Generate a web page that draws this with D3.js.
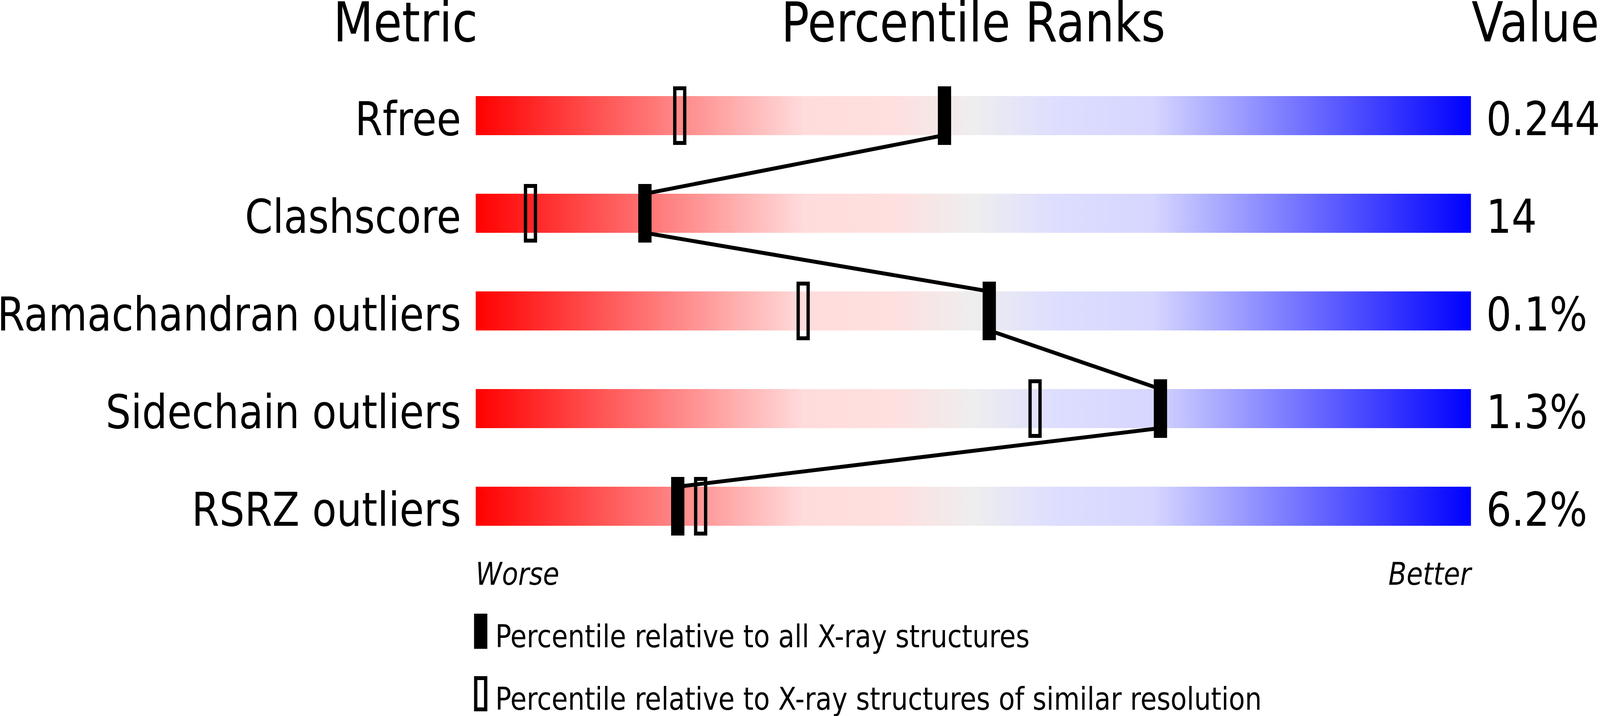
<!DOCTYPE html>
<html lang="en">
	<head>
		<meta charset="utf-8">
		<title>Percentile ranks slider</title>
		<script type="text/javascript" src="https://cdn.jsdelivr.net/npm/d3@7"></script>
		<style type="text/css">
			html, body {
				margin: 0;
				padding: 0;
				overflow: hidden;
				background: #fff;
			}
			#chart svg {
				display: block;
				width: 100vw;
				height: 100vh;
			}
			svg text {
				font-family: "DejaVu Sans", sans-serif;
				fill: #000;
			}
		</style>
	</head>
	<body>
		<div id="chart"></div>
		<script type="text/javascript">

			// rows of the slider
			var metrics = ["Rfree", "Clashscore", "Ramachandran outliers", "Sidechain outliers", "RSRZ outliers"];
			var values = ["0.244", "14", "0.1%", "1.3%", "6.2%"];
			// percentile vs all X-ray structures (filled marker)
			var pctAll = [47.1, 17.0, 51.6, 68.8, 20.3];
			// percentile vs structures of similar resolution (open marker)
			var pctRes = [20.5, 5.5, 32.9, 56.2, 22.6];

			var legendLabels = ["Percentile relative to all X-ray structures",
				"Percentile relative to X-ray structures of similar resolution"];

			var w = 4823;
			var h = 1833;
			var barH = 100;

			// red -> pink -> grey -> lavender -> blue
			var gradStops = [
				[0, "#ff0000"], [0.33, "#ffdcdc"], [0.42, "#ffdfdf"], [0.5, "#eeeeee"],
				[0.58, "#dedeff"], [0.68, "#d6d6ff"], [1, "#0000ff"]
			];

			var xScale = d3.scaleLinear()
				.domain([0, 100])
				.range([1434, 4434]);

			var yScale = d3.scaleBand()
				.domain(metrics)
				.range([171, 1421]);

			var rowMid = function(m) { return yScale(m) + yScale.bandwidth() / 2; };

			// drawn in a fixed 4823x1833 space and stretched over the whole window
			// (the window can come out narrower than asked)
			var svg = d3.select("#chart")
				.append("svg")
				.attr("viewBox", "0 0 " + w + " " + h)
				.attr("preserveAspectRatio", "none");

			var grad = svg.append("defs")
				.append("linearGradient")
				.attr("id", "slider")
				.attr("x1", "0%").attr("x2", "100%")
				.attr("y1", "0%").attr("y2", "0%");
			grad.selectAll("stop")
				.data(gradStops)
				.enter()
				.append("stop")
				.attr("offset", function(d) { return d[0]; })
				.attr("stop-color", function(d) { return d[1]; });

			//// headers
			svg.append("text").text("Metric")
				.attr("x", xScale(0) + 6).attr("y", 106)
				.attr("text-anchor", "end")
				.style("font-size", "140px");
			svg.append("text").text("Percentile Ranks")
				.attr("x", xScale(50)).attr("y", 106)
				.attr("text-anchor", "middle")
				.style("font-size", "140px");
			svg.append("text").text("Value")
				.attr("x", xScale(100) + 2).attr("y", 106)
				.style("font-size", "140px");

			//// bars
			svg.selectAll(".bar")
				.data(metrics)
				.enter()
				.append("rect")
				.attr("class", "bar")
				.attr("x", xScale(0))
				.attr("y", function(d) { return rowMid(d) - barH / 2; })
				.attr("width", xScale(100) - xScale(0))
				.attr("height", barH)
				.attr("fill", "url(#slider)");

			svg.selectAll(".metric")
				.data(metrics)
				.enter()
				.append("text")
				.attr("class", "metric")
				.text(function(d) { return d; })
				.attr("x", xScale(0) - 44)
				.attr("y", function(d) { return rowMid(d) + barH / 2; })
				.attr("text-anchor", "end")
				.style("font-size", "120px");

			svg.selectAll(".value")
				.data(metrics)
				.enter()
				.append("text")
				.attr("class", "value")
				.text(function(d, i) { return values[i]; })
				.attr("x", xScale(100) + 46)
				.attr("y", function(d) { return rowMid(d) + barH / 2; })
				.style("font-size", "120px");

			//// connecting line: bottom of one bar to top of the next
			var segs = d3.pairs(d3.range(metrics.length));
			svg.selectAll(".link")
				.data(segs)
				.enter()
				.append("line")
				.attr("class", "link")
				.attr("x1", function(d) { return xScale(pctAll[d[0]]); })
				.attr("y1", function(d) { return rowMid(metrics[d[0]]) + barH / 2; })
				.attr("x2", function(d) { return xScale(pctAll[d[1]]); })
				.attr("y2", function(d) { return rowMid(metrics[d[1]]) - barH / 2; })
				.attr("stroke", "#000")
				.attr("stroke-width", 10);

			//// markers
			svg.selectAll(".resMark")
				.data(metrics)
				.enter()
				.append("rect")
				.attr("class", "resMark")
				.attr("x", function(d, i) { return xScale(pctRes[i]) - 15; })
				.attr("y", function(d) { return rowMid(d) - 70; })
				.attr("width", 30)
				.attr("height", 140)
				.attr("fill", "none")
				.attr("stroke", "#000")
				.attr("stroke-width", 10);

			svg.selectAll(".allMark")
				.data(metrics)
				.enter()
				.append("rect")
				.attr("class", "allMark")
				.attr("x", function(d, i) { return xScale(pctAll[i]) - 20; })
				.attr("y", function(d) { return rowMid(d) - 75; })
				.attr("width", 40)
				.attr("height", 150)
				.attr("fill", "#000");

			//// worse / better
			svg.append("text").text("Worse")
				.attr("x", xScale(0)).attr("y", 1497)
				.style("font-size", "80px")
				.style("font-style", "italic");
			svg.append("text").text("Better")
				.attr("x", xScale(100)).attr("y", 1497)
				.attr("text-anchor", "end")
				.style("font-size", "80px")
				.style("font-style", "italic");

			//// legend
			var lg = svg.append("g");
			lg.append("rect")
				.attr("x", 1429).attr("y", 1571)
				.attr("width", 40).attr("height", 90)
				.attr("fill", "#000");
			lg.append("rect")
				.attr("x", 1434).attr("y", 1736)
				.attr("width", 30).attr("height", 80)
				.attr("fill", "none")
				.attr("stroke", "#000")
				.attr("stroke-width", 10);
			lg.selectAll("text")
				.data(legendLabels)
				.enter()
				.append("text")
				.text(function(d) { return d; })
				.attr("x", 1493)
				.attr("y", function(d, i) { return 1657 + i * 160; })
				.style("font-size", "80px");

		</script>
	</body>
</html>
